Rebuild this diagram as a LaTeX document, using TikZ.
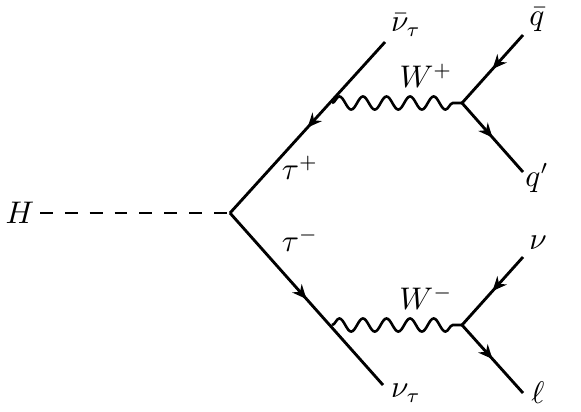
\documentclass[tikz,border=0pt]{standalone}
\usepackage{amsmath,amssymb}
\usepackage{tikz}
\usetikzlibrary{arrows.meta,decorations.markings,decorations.pathmorphing}

\begin{document}
\begin{tikzpicture}[x=0.35pt, y=-0.35pt, font=\fontsize{10.5}{12}\selectfont,
    fermion/.style={line width=1pt, postaction={decorate},
        decoration={markings, mark=at position 0.5 with {\arrow{Stealth[length=5pt, width=4.4pt]}}}},
    boson/.style={line width=0.9pt, decorate,
        decoration={snake, amplitude=2.3pt, segment length=8.25pt}},
    scalar/.style={line width=0.8pt, dash pattern=on 4.5pt off 4.2pt}]
    \useasboundingbox (0,0) rectangle (581,411);

    % Vertices and end points
    \coordinate (vH) at (230,213);
    \coordinate (hend) at (40,213);
    \coordinate (nubarend) at (385,42);
    \coordinate (nutauend) at (383,385);
    \coordinate (wpl) at (332,103);
    \coordinate (wpr) at (462,103);
    \coordinate (wml) at (332,325);
    \coordinate (wmr) at (462,325);
    \coordinate (qbarend) at (523,35);
    \coordinate (qprend) at (523,172);
    \coordinate (nuend) at (523,257);
    \coordinate (lepend) at (523,393);

    % Higgs line
    \draw[scalar] (hend) -- (vH);

    % Tau lines
    \draw[fermion] (nubarend) -- (vH);
    \draw[fermion] (vH) -- (nutauend);

    % W bosons
    \draw[boson] (wpl) -- (wpr);
    \draw[boson] (wml) -- (wmr);

    % W decays
    \draw[fermion] (qbarend) -- (wpr);
    \draw[fermion] (wpr) -- (qprend);
    \draw[fermion] (nuend) -- (wmr);
    \draw[fermion] (wmr) -- (lepend);

    % Labels
    \node (lH) at (20,213) {$H$};
    \node (lnubar) at (406,25) {$\bar{\nu}_\tau$};
    \node (ltaup) at (300,168) {$\tau^+$};
    \node (ltaum) at (300,240) {$\tau^-$};
    \node (lnutau) at (406,393) {$\nu_\tau$};
    \node (lwp) at (426,76) {$W^+$};
    \node (lwm) at (426,298) {$W^-$};
    \node (lqbar) at (537,20) {$\bar{q}$};
    \node (lqpr) at (537,178) {$q'$};
    \node (lnu) at (538,243) {$\nu$};
    \node (llep) at (538,393) {$\ell$};

\end{tikzpicture}
\end{document}
